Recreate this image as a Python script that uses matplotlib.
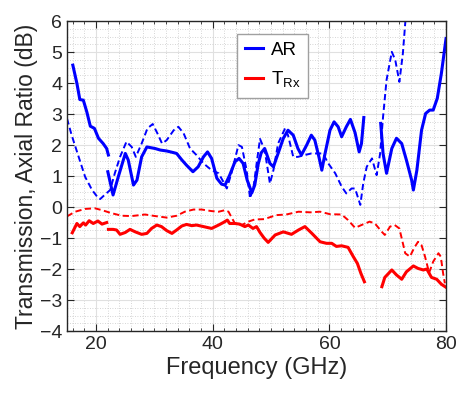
import numpy as np
import matplotlib
matplotlib.use("Agg")
import matplotlib.pyplot as plt
from matplotlib.ticker import MultipleLocator

plt.rcParams['font.family'] = ['Liberation Sans', 'DejaVu Sans']

nan = np.nan

# AR, measured (solid blue), NaN marks the gaps
ar_meas_f = [16.0, 16.7, 17.2, 17.8, 18.4, 19.0, 19.7, 20.4, 21.2, 21.8, 22.1, nan,
             22.0, 22.9, 23.8, 25.0, 25.5, 26.4, 27.0, 27.8, 28.7, 30.1, 31.0, 32.1, 33.2,
             33.8, 34.7, 35.5, 36.6, 37.5, 38.4, 39.1, 39.8, 40.7, 41.5, 42.1, 42.9, 43.8,
             44.5, 45.2, 45.9, 46.7, 47.2, 47.8, 48.3, 48.9, 49.8, 50.4, 51.2, 52.1, 52.9,
             53.8, 54.6, 55.2, 56.1, 56.9, 57.5, 58.2, 58.7, 59.2, 60.1, 60.8, 61.5, 62.1,
             62.9, 63.6, 64.4, 65.1, 65.5, 65.9, nan,
             68.8, 69.2, 69.8, 70.7, 71.5, 72.4, 73.2, 74.1, 74.4, 75.0, 75.8, 76.5, 77.2,
             77.8, 78.5, 79.2, 80.0]
ar_meas_v = [4.58, 3.99, 3.47, 3.45, 3.07, 2.61, 2.54, 2.22, 2.05, 1.89, 1.68, nan,
             1.14, 0.39, 0.98, 1.73, 1.52, 0.71, 0.87, 1.62, 1.94, 1.89, 1.84, 1.81, 1.76,
             1.73, 1.52, 1.35, 1.14, 1.30, 1.62, 1.78, 1.57, 0.93, 0.74, 0.71, 1.03, 1.46,
             1.57, 1.41, 0.87, 0.46, 0.71, 1.40, 1.75, 1.89, 1.41, 1.30, 1.73, 2.22, 2.48,
             2.32, 1.89, 1.68, 2.00, 2.32, 2.16, 1.62, 1.19, 1.68, 2.48, 2.75, 2.59, 2.27,
             2.59, 2.83, 2.40, 1.78, 2.05, 2.89, nan,
             2.70, 1.73, 1.09, 1.89, 2.22, 2.05, 1.52, 0.87, 0.55, 1.19, 2.48, 3.02, 3.13,
             3.13, 3.51, 4.31, 5.44]

# AR, simulated (dashed blue)
ar_sim_f = [15.0, 15.8, 17.0, 18.1, 19.3, 20.4, 20.7, 21.5, 22.4, 23.2, 24.1, 25.2, 26.1,
            26.8, 27.8, 28.8, 29.7, 30.5, 31.3, 32.1, 33.3, 34.1, 35.0, 36.1, 37.2, 38.4,
            39.8, 41.0, 41.8, 42.4, 43.2, 44.4, 45.0, 45.8, 46.4, 47.0, 47.6, 48.1, 48.9,
            49.8, 50.4, 51.2, 52.4, 52.9, 53.8, 54.6, 55.8, 56.9, 58.9, 59.8, 61.0, 62.1,
            62.9, 63.8, 64.4, 65.3, 65.8, 66.4, 67.3, 68.1, 68.7, 69.2, 69.8, 70.7, 71.3,
            72.0, 72.6, 73.0, 73.2]
ar_sim_v = [2.86, 2.32, 1.62, 0.98, 0.55, 0.28, 0.26, 0.40, 0.55, 1.09, 1.62, 2.11, 1.94,
            1.62, 2.05, 2.54, 2.68, 2.38, 2.05, 2.16, 2.48, 2.59, 2.38, 1.89, 1.68, 1.41,
            1.19, 1.09, 0.82, 0.60, 1.09, 2.00, 1.94, 1.19, 0.28, 0.66, 1.52, 2.20, 1.84,
            0.76, 1.19, 2.05, 2.54, 2.32, 1.62, 1.62, 1.68, 1.73, 1.73, 1.41, 1.09, 0.66,
            0.44, 0.60, 0.60, 0.07, 0.76, 1.30, 1.57, 1.03, 1.73, 2.91, 4.10, 5.01, 4.74,
            4.04, 4.96, 5.93, 6.40]

# Transmission, measured (solid red)
t_meas_f = [15.9, 16.7, 17.2, 17.8, 18.2, 18.8, 19.5, 20.3, 21.0, 21.8, nan,
            22.1, 22.9, 23.5, 24.1, 25.0, 25.8, 26.7, 27.8, 28.7, 29.5, 30.4, 31.2, 32.1,
            33.0, 33.8, 34.7, 35.5, 36.4, 37.2, 38.4, 39.8, 41.0, 41.8, 42.5, 42.9, 43.8,
            44.6, 45.5, 46.1, 46.9, 47.5, 48.1, 48.8, 49.5, 50.7, 52.1, 53.5, 54.7, 55.8,
            57.0, 58.4, 59.5, 60.4, 61.2, 62.1, 63.2, 64.1, 64.8, 65.4, 66.0, nan,
            69.0, 69.5, 70.7, 71.5, 72.4, 73.2, 74.4, 75.2, 76.1, 76.7, 77.5, 78.4, 79.2, 80.0]
t_meas_v = [-0.83, -0.53, -0.63, -0.51, -0.58, -0.44, -0.53, -0.45, -0.55, -0.50, nan,
            -0.72, -0.72, -0.74, -0.88, -0.82, -0.72, -0.80, -0.88, -0.85, -0.69, -0.58, -0.63, -0.76,
            -0.85, -0.74, -0.61, -0.56, -0.60, -0.58, -0.63, -0.69, -0.58, -0.50, -0.42, -0.53, -0.53,
            -0.55, -0.63, -0.58, -0.69, -0.63, -0.82, -1.00, -1.14, -0.90, -0.80, -0.88, -0.74, -0.63,
            -0.85, -1.12, -1.17, -1.17, -1.27, -1.25, -1.30, -1.60, -1.82, -2.14, -2.41, nan,
            -2.57, -2.27, -2.03, -2.19, -2.33, -2.09, -1.90, -1.98, -2.03, -2.00, -2.27, -2.33, -2.49, -2.59]

# Transmission, simulated (dashed red)
t_sim_f = [15.0, 16.4, 18.1, 19.8, 21.0, 22.7, 24.4, 26.1, 28.4, 30.1, 32.1, 33.8, 35.2,
           36.7, 38.1, 39.8, 41.0, 42.1, 42.7, 43.3, 43.8, 45.0, 46.1, 47.2, 48.8, 50.9,
           52.6, 54.7, 56.7, 58.4, 60.1, 62.1, 63.2, 64.4, 65.5, 66.9, 67.8, 69.0, 69.5,
           70.4, 71.2, 72.0, 73.0, 73.8, 74.5, 75.2, 75.8, 76.4, 77.1, 77.8, 78.7, 79.1,
           79.5, 79.8]
t_sim_v = [-0.30, -0.15, -0.06, -0.04, -0.10, -0.20, -0.28, -0.29, -0.24, -0.29, -0.34, -0.28, -0.15,
           -0.08, -0.08, -0.13, -0.15, -0.10, -0.15, -0.36, -0.53, -0.58, -0.47, -0.40, -0.39, -0.26,
           -0.24, -0.15, -0.17, -0.15, -0.23, -0.24, -0.42, -0.67, -0.58, -0.47, -0.53, -0.80, -0.90,
           -0.63, -0.58, -0.69, -1.49, -1.60, -1.33, -1.12, -1.23, -1.60, -2.12, -1.76, -1.49, -1.60,
           -2.14, -2.46]

txt = '#262626'

fig = plt.figure(figsize=(4.57, 3.99), dpi=100)
ax = fig.add_axes([0.1466, 0.1704, 0.8294, 0.7766])

ax.plot(ar_meas_f, ar_meas_v, color='b', lw=2.2, label='AR')
ax.plot(t_meas_f, t_meas_v, color='r', lw=2.2, label='T$_{\\mathregular{Rx}}$')
ax.plot(ar_sim_f, ar_sim_v, color='b', lw=1.4, ls=(0, (3.2, 1.8)))
ax.plot(t_sim_f, t_sim_v, color='r', lw=1.4, ls=(0, (3.2, 1.8)))

ax.set_xlim(15, 80)
ax.set_ylim(-4, 6)
ax.xaxis.set_major_locator(MultipleLocator(20))
ax.xaxis.set_minor_locator(MultipleLocator(2))
ax.yaxis.set_major_locator(MultipleLocator(1))
ax.yaxis.set_minor_locator(MultipleLocator(0.25))

ax.grid(which='major', color='#e0e0e0', lw=0.8, ls='-')
ax.grid(which='minor', color='#c8c8c8', lw=0.6, ls=(0, (1, 2)))
ax.set_axisbelow(True)

ax.tick_params(which='major', direction='in', length=5, top=True, right=True,
               labelsize=14, colors=txt, width=0.8)
ax.tick_params(which='minor', direction='in', length=2.5, top=True, right=False,
               left=False, width=0.6, colors=txt)
for s in ax.spines.values():
    s.set_color(txt)
    s.set_linewidth(1.0)

ax.set_xlabel('Frequency (GHz)', fontsize=17, color=txt, labelpad=3)
ax.set_ylabel('Transmission, Axial Ratio (dB)', fontsize=16.5, color=txt, labelpad=1)

leg = ax.legend(loc='upper left', bbox_to_anchor=(0.449, 0.958), fontsize=13.5,
                handlelength=1.0, handletextpad=0.4, labelspacing=0.6,
                borderpad=0.4, borderaxespad=0, fancybox=False, framealpha=1,
                edgecolor='#a0a0a0')
leg.get_frame().set_linewidth(1.0)

fig.savefig('out.png', dpi=100)
